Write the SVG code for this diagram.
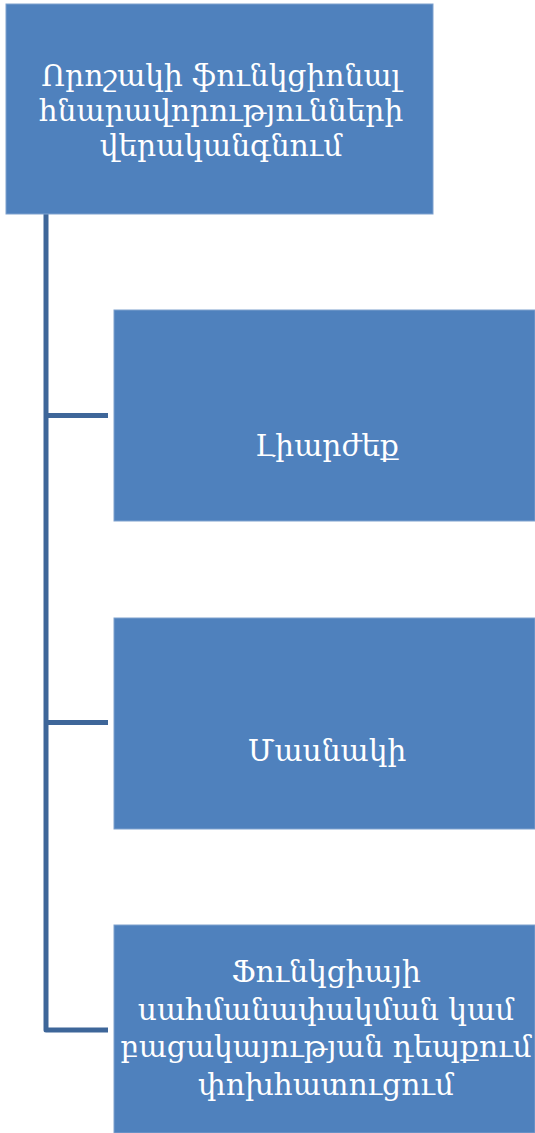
<svg xmlns="http://www.w3.org/2000/svg" width="535" height="1133" viewBox="0 0 535 1133">
<style>
.box{fill:#4F81BD;stroke:#7EA1CE;stroke-width:1}
.t{font-family:"DejaVu Serif","Noto Serif",serif;font-size:29.7px;fill:#FFFFFF;text-anchor:middle}
.c{stroke:#3E6699;stroke-width:5;fill:none;stroke-linejoin:round}
</style>
<rect width="535" height="1133" fill="#FFFFFF"/>
<g id="connectors">
<path class="c" d="M46,214 V1030 H108"/>
<path class="c" d="M46,415.5 H108"/>
<path class="c" d="M46,722.5 H108"/>
</g>
<g id="root">
<rect class="box" x="6" y="4" width="427" height="210"/>
<text class="t" x="221" y="86">Որոշակի ֆունկցիոնալ</text>
<text class="t" x="221" y="121">հնարավորությունների</text>
<text class="t" x="221" y="156">վերականգնում</text>
</g>
<g id="full">
<rect class="box" x="114" y="310" width="421" height="211"/>
<text class="t" x="327" y="456">Լիարժեք</text>
</g>
<g id="partial">
<rect class="box" x="114" y="618" width="421" height="211"/>
<text class="t" x="327" y="761">Մասնակի</text>
</g>
<g id="compensation">
<rect class="box" x="114" y="925" width="421" height="208"/>
<text class="t" x="326" y="982">Ֆունկցիայի</text>
<text class="t" x="326" y="1020">սահմանափակման կամ</text>
<text class="t" x="326" y="1057">բացակայության դեպքում</text>
<text class="t" x="326" y="1095">փոխհատուցում</text>
</g>
</svg>
